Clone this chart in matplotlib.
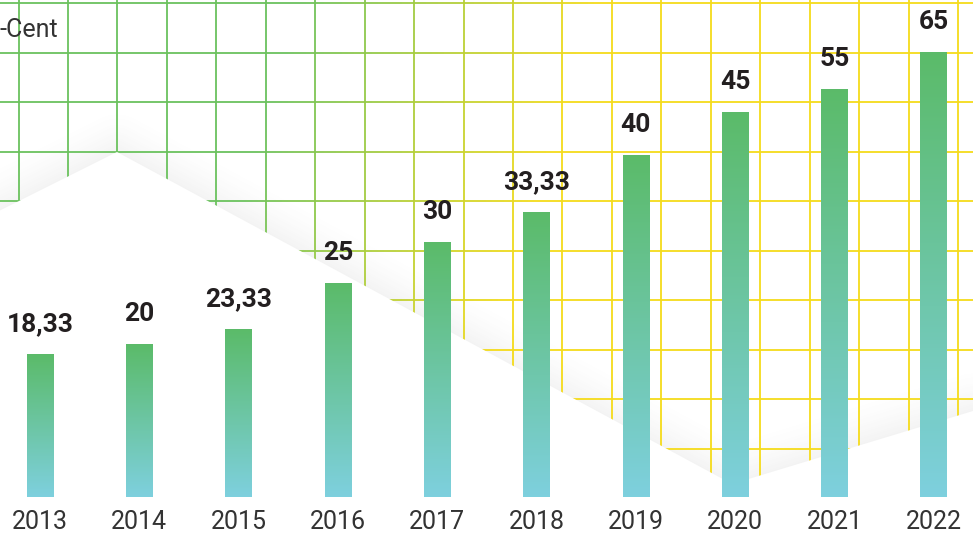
import numpy as np
import matplotlib
matplotlib.use("Agg")
import matplotlib.pyplot as plt
from matplotlib.collections import LineCollection
from matplotlib.patches import Polygon

plt.rcParams['font.family'] = ['Roboto', 'DejaVu Sans']

# data
years = ['2013', '2014', '2015', '2016', '2017', '2018', '2019', '2020', '2021', '2022']
value_labels = ['18,33', '20', '23,33', '25', '30', '33,33', '40', '45', '55', '65']
# bar heights as drawn in the picture (not to scale with the labels)
bar_heights = [143, 153, 168, 214, 255, 285, 342, 385, 408, 445]
unit_label = '-Cent'

W, H = 973, 533
fig = plt.figure(figsize=(W / 100, H / 100), dpi=100)

# background: gradient grid, white "mountain", soft shadow
bg = fig.add_axes([0, 0, 1, 1])
bg.set_xlim(0, W)
bg.set_ylim(H, 0)
bg.axis('off')

green = np.array([0.42, 0.76, 0.37])
yellow = np.array([0.96, 0.86, 0.10])

def grid_color(x, y):
    t = np.clip((x + 0.3 * y - 300) / 300, 0, 1)
    return tuple(green * (1 - t) + yellow * t)

segs, cols = [], []
step = 6
for gx in np.arange(18.5, W, 49.45):
    for y0 in np.arange(0, H, step):
        segs.append([(gx, y0), (gx, y0 + step)])
        cols.append(grid_color(gx, y0 + step / 2))
for gy in np.arange(3, H, 49.5):
    for x0 in np.arange(0, W, step):
        segs.append([(x0, gy), (x0 + step, gy)])
        cols.append(grid_color(x0 + step / 2, gy))
bg.add_collection(LineCollection(segs, colors=cols, linewidths=1.3, zorder=1))

edge = np.array([(0, 210.5), (117, 152), (732, 484), (973, 411)])

# shadow above the edge
yy, xx = np.mgrid[0:H, 0:W] + 0.5
dist = np.full((H, W), np.inf)
for (x1, y1), (x2, y2) in zip(edge[:-1], edge[1:]):
    dx, dy = x2 - x1, y2 - y1
    t = np.clip(((xx - x1) * dx + (yy - y1) * dy) / (dx * dx + dy * dy), 0, 1)
    d = np.hypot(xx - (x1 + t * dx), yy - (y1 + t * dy))
    dist = np.minimum(dist, d)
shade = np.zeros((H, W, 4))
shade[..., :3] = 0.35
shade[..., 3] = 0.07 * np.clip(1 - dist / 45, 0, 1) ** 1.6
bg.imshow(shade, extent=(0, W, H, 0), zorder=0.5, interpolation='bilinear')

mountain = list(map(tuple, edge)) + [(W, H), (0, H)]
bg.add_patch(Polygon(mountain, closed=True, facecolor='white', edgecolor='none', zorder=3))
bg.set_xlim(0, W)
bg.set_ylim(H, 0)

bg.text(-1, 37, unit_label, fontsize=18, color='#333333', ha='left', va='baseline', zorder=5)

# bars
ax = fig.add_axes([0, 0, 1, 1])
ax.set_facecolor('none')
ax.axis('off')
pitch = 99.3
x0_px, base_px = 40, 497
xs = np.arange(len(years))
width = 26.5 / pitch

bars = ax.bar(xs, bar_heights, width=width, color='none', edgecolor='none')
grad = np.linspace(0, 1, 256).reshape(-1, 1)
top_c = np.array([0.357, 0.733, 0.412])
bot_c = np.array([0.494, 0.816, 0.871])
grad_img = (top_c * (1 - grad[..., None]) + bot_c * grad[..., None])
for b, x, h in zip(bars, xs, bar_heights):
    im = ax.imshow(grad_img, extent=(x - width / 2, x + width / 2, 0, h),
                   aspect='auto', origin='upper', zorder=2)
    im.set_clip_path(b)

for x, h, lab in zip(xs, bar_heights, value_labels):
    ax.annotate(lab, (x, h), xytext=(0, 16.5), textcoords='offset points',
                ha='center', va='baseline', fontsize=19, fontweight='bold',
                color='#231f20')

for x, yr in zip(xs, years):
    ax.text(x, base_px - 529, yr, ha='center', va='baseline', fontsize=18,
            color='#333333')

ax.set_xlim(-x0_px / pitch, (W - x0_px) / pitch)
ax.set_ylim(base_px - H, base_px)

fig.savefig('out.png', dpi=100)
